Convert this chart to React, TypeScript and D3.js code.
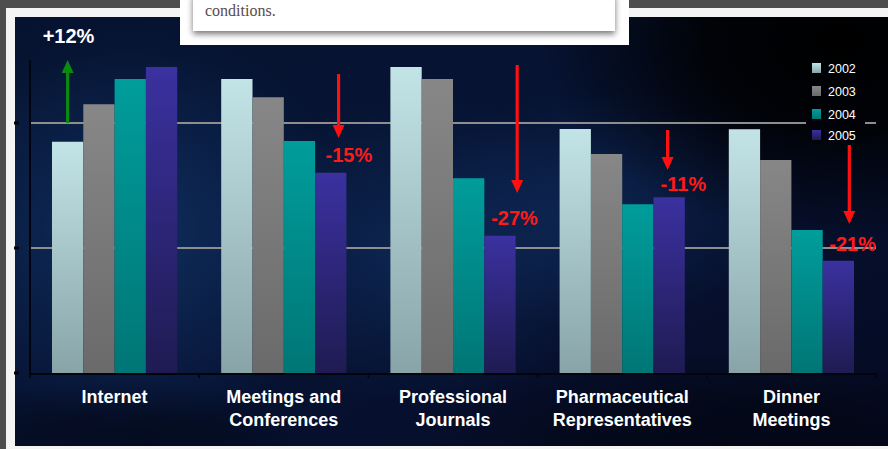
import React from "react";
import * as d3 from "d3";

const categories: string[][] = [
  ["Internet"],
  ["Meetings and", "Conferences"],
  ["Professional", "Journals"],
  ["Pharmaceutical", "Representatives"],
  ["Dinner", "Meetings"],
];
const seriesNames = ["2002", "2003", "2004", "2005"];
const values2002 = [92.5, 117.6, 122.4, 97.6, 97.5];
const values2003 = [107.5, 110.3, 117.6, 87.6, 85.2];
const values2004 = [117.6, 92.8, 77.9, 67.5, 57.2];
const values2005 = [122.4, 80.1, 54.9, 70.3, 44.9];
const gridValues = [50, 100];
const changeLabels = ["+12%", "-15%", "-27%", "-11%", "-21%"];
const arrowFrom = [100, 119.6, 123.2, 97.2, 91.2];
const arrowTo = [125.2, 94, 72, 81.2, 59.6];
const labelValue = [132, 84.4, 59.2, 72.8, 48.8];

// styling / layout (not data)
const W = 888;
const H = 449;
const seriesTop = ["#c3e4e7", "#878787", "#009d9b", "#3b31a0"];
const seriesBottom = ["#88a4a9", "#6a6a6a", "#007676", "#1f1b52"];
const arrowSeries = [0, 3, 3, 3, 3];
const arrowFrac = [0.5, 0.75, 1.05, 0.45, 0.85];
const labelDx = [-25, -13, -26, -7, -20];
const legendBox = { x0: 806, x1: 865, y0: 56, y1: 146 };

export default function App() {
  const keys = categories.map((c) => c.join(" "));
  const x0 = d3
    .scaleBand<string>()
    .domain(keys)
    .range([30, 876])
    .paddingInner(0.26)
    .paddingOuter(0.13);
  const x1 = d3
    .scaleBand<string>()
    .domain(seriesNames)
    .range([0, x0.bandwidth()])
    .padding(0);
  const y = d3.scaleLinear().domain([0, 100]).range([373, 123]);
  const allSeries = [values2002, values2003, values2004, values2005];
  const step = x0.step();
  const boundaries = d3.range(keys.length + 1).map((i) => 30 + i * step);

  const font = "'Liberation Sans', Arial, sans-serif";

  const gridSegments = (v: number): [number, number][] => {
    const yy = y(v);
    if (yy >= legendBox.y0 && yy <= legendBox.y1) {
      return [
        [30, legendBox.x0],
        [legendBox.x1, 876],
      ];
    }
    return [[30, 876]];
  };

  return (
    <svg
      width={W}
      height={H}
      style={{ position: "fixed", left: 0, top: 0, display: "block" }}
    >
      <defs>
        <linearGradient id="panelBase" x1="0" y1="0" x2="1" y2="1">
          <stop offset="0" stopColor="#061330" />
          <stop offset="0.5" stopColor="#071334" />
          <stop offset="1" stopColor="#050a22" />
        </linearGradient>
        <radialGradient id="haze1" cx="0.5" cy="0.5" r="0.5">
          <stop offset="0" stopColor="#113366" stopOpacity="0.85" />
          <stop offset="1" stopColor="#113366" stopOpacity="0" />
        </radialGradient>
        <radialGradient id="dark1" cx="0.5" cy="0.5" r="0.5">
          <stop offset="0" stopColor="#000000" stopOpacity="1" />
          <stop offset="0.45" stopColor="#000000" stopOpacity="0.85" />
          <stop offset="1" stopColor="#000000" stopOpacity="0" />
        </radialGradient>
        {seriesNames.map((s, i) => (
          <linearGradient key={s} id={`bar${i}`} x1="0" y1="0" x2="0" y2="1">
            <stop offset="0" stopColor={seriesTop[i]} />
            <stop offset="1" stopColor={seriesBottom[i]} />
          </linearGradient>
        ))}
        <filter id="shadow" x="-10%" y="-50%" width="120%" height="200%">
          <feDropShadow dx="0" dy="3" stdDeviation="3" floodColor="#000" floodOpacity="0.55" />
        </filter>
        <clipPath id="panelClip">
          <rect x={15} y={17} width={W - 15} height={429} />
        </clipPath>
      </defs>

      {/* page frame */}
      <rect x={0} y={0} width={W} height={H} fill="#4d4d4d" />
      <rect x={6} y={8} width={W - 6} height={H - 8} fill="#f4f4f4" />

      {/* panel background */}
      <g clipPath="url(#panelClip)">
        <rect x={15} y={17} width={W - 15} height={429} fill="url(#panelBase)" />
        <ellipse cx={130} cy={230} rx={220} ry={200} fill="url(#haze1)" />
        <ellipse cx={420} cy={250} rx={220} ry={150} fill="url(#haze1)" opacity={0.7} />
        <ellipse cx={600} cy={210} rx={180} ry={120} fill="url(#haze1)" opacity={0.6} />
        <ellipse cx={840} cy={40} rx={300} ry={200} fill="url(#dark1)" />
        <ellipse cx={720} cy={440} rx={300} ry={90} fill="url(#dark1)" opacity={0.4} />
        <ellipse cx={120} cy={440} rx={200} ry={60} fill="url(#dark1)" opacity={0.35} />
      </g>

      {/* gridlines */}
      {gridValues.map((v) =>
        gridSegments(v).map(([a, b], i) => (
          <line key={v + "-" + i} x1={a} x2={b} y1={y(v)} y2={y(v)} stroke="#8e8e8e" strokeWidth={2} />
        ))
      )}
      {/* left small ticks */}
      {[0, ...gridValues].map((v) => (
        <line key={"t" + v} x1={14} x2={19} y1={y(v)} y2={y(v)} stroke="#02040c" strokeWidth={3} />
      ))}

      {/* axes */}
      <line x1={30} x2={30} y1={y(125.2)} y2={y(0)} stroke="#02050e" strokeWidth={2} />

      {/* bars */}
      {keys.map((k, ci) => (
        <g key={k} transform={`translate(${x0(k)},0)`}>
          {seriesNames.map((s, si) => {
            const v = allSeries[si][ci];
            return (
              <rect
                key={s}
                x={x1(s)}
                y={y(v)}
                width={x1.bandwidth()}
                height={y(0) - y(v)}
                fill={`url(#bar${si})`}
              />
            );
          })}
        </g>
      ))}

      <line x1={30} x2={876} y1={y(0) + 1} y2={y(0) + 1} stroke="#02050e" strokeWidth={2} />
      {boundaries.map((b, i) => (
        <line key={"b" + i} x1={b} x2={b} y1={y(0)} y2={y(0) + 5} stroke="#02050e" strokeWidth={1.5} />
      ))}

      {/* category labels */}
      {keys.map((k, ci) => (
        <text
          key={"l" + k}
          x={(x0(k) as number) + x0.bandwidth() / 2}
          y={403}
          textAnchor="middle"
          fill="#ffffff"
          fontFamily={font}
          fontWeight="bold"
          fontSize={18}
        >
          {categories[ci].map((line, li) => (
            <tspan key={li} x={(x0(k) as number) + x0.bandwidth() / 2} dy={li === 0 ? 0 : 23}>
              {line}
            </tspan>
          ))}
        </text>
      ))}

      {/* change arrows */}
      {keys.map((k, ci) => {
        const s = seriesNames[arrowSeries[ci]];
        const ax = (x0(k) as number) + (x1(s) as number) + x1.bandwidth() * arrowFrac[ci];
        const up = arrowTo[ci] > arrowFrom[ci];
        const color = up ? "#0b8a12" : "#ff1010";
        const yTip = y(arrowTo[ci]);
        const yStart = y(arrowFrom[ci]);
        const headH = 13;
        const headW = 6;
        const dir = up ? 1 : -1;
        const shaftEnd = yTip + dir * headH;
        return (
          <g key={"a" + k}>
            <line x1={ax} x2={ax} y1={yStart} y2={shaftEnd} stroke={color} strokeWidth={3.2} />
            <path
              d={`M${ax - headW},${shaftEnd} L${ax + headW},${shaftEnd} L${ax},${yTip} Z`}
              fill={color}
            />
            <text
              x={ax + labelDx[ci]}
              y={y(labelValue[ci])}
              fill={up ? "#ffffff" : "#ff1a1a"}
              fontFamily={font}
              fontWeight="bold"
              fontSize={20}
            >
              {changeLabels[ci]}
            </text>
          </g>
        );
      })}

      {/* legend */}
      {seriesNames.map((s, i) => {
        const ly = [63, 86, 109, 130][i];
        return (
          <g key={"lg" + s}>
            <rect x={812} y={ly} width={9} height={10} fill={`url(#bar${i})`} />
            <text x={828} y={ly + 10} fill="#ffffff" fontFamily={font} fontSize={12.5}>
              {s}
            </text>
          </g>
        );
      })}

      {/* overlay card at top */}
      <rect x={180} y={0} width={449} height={45} fill="#ffffff" />
      <rect x={193} y={-6} width={422} height={37} fill="#ffffff" filter="url(#shadow)" />
      <text x={205} y={16} fill="#5c4a4a" fontFamily="'Liberation Serif', 'DejaVu Serif', serif" fontSize={16}>
        conditions.
      </text>
    </svg>
  );
}
